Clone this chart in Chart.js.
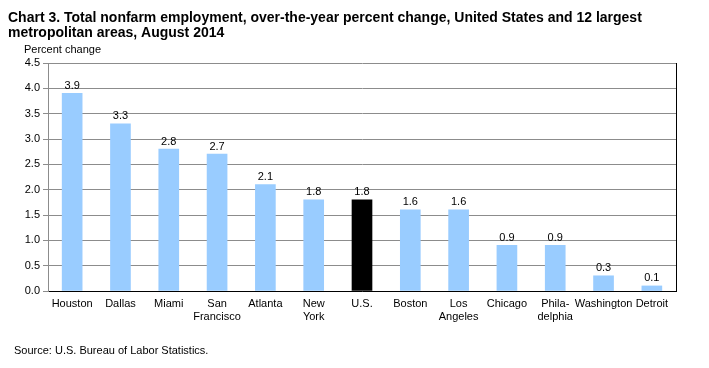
<!DOCTYPE html>
<html>
<head>
<meta charset="utf-8">
<script src="https://cdn.jsdelivr.net/npm/chart.js@4"></script>
<style>
  html, body { margin: 0; padding: 0; background: #fff; }
  #wrap { width: 709px; height: 368px; position: relative; }
</style>
</head>
<body>
<div id="wrap"><canvas id="graph" width="709" height="368"></canvas></div>
<script>
// areas as shown under the bars (split labels keep the original line breaks)
const areas = [
  "Houston", "Dallas", "Miami", ["San", "Francisco"], "Atlanta", ["New", "York"],
  "U.S.", "Boston", ["Los", "Angeles"], "Chicago", ["Phila-", "delphia"], "Washington", "Detroit"
];
const pctChange = [3.9, 3.3, 2.8, 2.7, 2.1, 1.8, 1.8, 1.6, 1.6, 0.9, 0.9, 0.3, 0.1];
const yTicks = [0, 0.5, 1.0, 1.5, 2.0, 2.5, 3.0, 3.5, 4.0, 4.5];

const titleLines = [
  "Chart 3. Total nonfarm employment, over-the-year percent change, United States and 12 largest",
  "metropolitan areas, August 2014"
];
const sourceNote = "Source: U.S. Bureau of Labor Statistics.";

const FONT = "'Liberation Sans', Arial, sans-serif";

// bar labels, frame on the right and the text around the chart
const extras = {
  id: "extras",
  afterDraw(chart) {
    const ctx = chart.ctx;
    const a = chart.chartArea;
    ctx.save();

    ctx.strokeStyle = "#000";
    ctx.lineWidth = 1;
    ctx.beginPath();
    ctx.moveTo(Math.round(a.right) + 0.5, a.top);
    ctx.lineTo(Math.round(a.right) + 0.5, a.bottom);
    ctx.stroke();

    const meta = chart.getDatasetMeta(0);
    ctx.fillStyle = "#000";
    ctx.font = "11px " + FONT;
    ctx.textAlign = "center";
    ctx.textBaseline = "bottom";
    meta.data.forEach((bar, i) => {
      ctx.fillText(pctChange[i].toFixed(1), bar.x, bar.y - 2);
    });

    ctx.textAlign = "left";
    ctx.textBaseline = "alphabetic";
    ctx.font = "bold 14px " + FONT;
    ctx.fillText(titleLines[0], 8, 22);
    ctx.fillText(titleLines[1], 8, 37);

    ctx.font = "11px " + FONT;
    ctx.fillText("Percent change", 24, 53);
    ctx.fillText(sourceNote, 14, 354);
    ctx.restore();
  }
};

Chart.register(extras);

new Chart(document.getElementById("graph"), {
  type: "bar",
  data: {
    labels: areas,
    datasets: [{
      data: pctChange,
      backgroundColor: areas.map(a => a === "U.S." ? "#000000" : "#99CCFF"),
      barThickness: 20
    }]
  },
  options: {
    responsive: false,
    animation: false,
    layout: { padding: { top: 63, right: 33, left: 0, bottom: 0 } },
    plugins: { legend: { display: false }, tooltip: { enabled: false } },
    scales: {
      x: {
        grid: { display: false, drawTicks: false },
        border: { color: "#000", width: 1 },
        ticks: {
          color: "#000",
          font: { family: FONT, size: 11 },
          padding: 6,
          maxRotation: 0,
          autoSkip: false
        },
        afterFit(scale) { scale.height = 77; }
      },
      y: {
        min: 0,
        max: 4.5,
        afterBuildTicks(scale) { scale.ticks = yTicks.map(v => ({ value: v })); },
        grid: { color: "#8c8c8c", tickLength: 5, tickColor: "#8c8c8c" },
        border: { color: "#8c8c8c", width: 1 },
        ticks: {
          color: "#000",
          font: { family: FONT, size: 11 },
          padding: 3,
          callback: v => v.toFixed(1)
        },
        afterFit(scale) { scale.width = 48; }
      }
    }
  }
});
</script>
</body>
</html>
